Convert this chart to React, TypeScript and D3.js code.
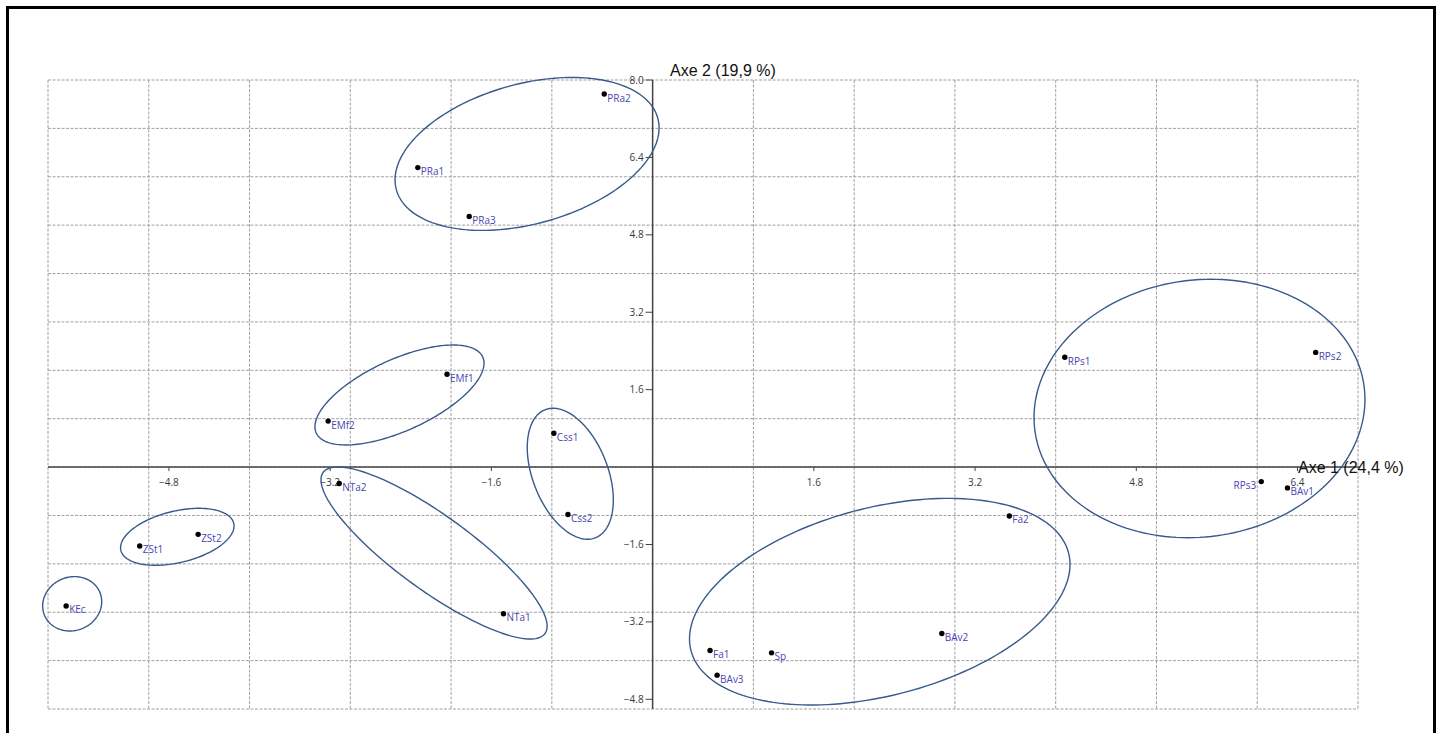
import React from "react";
import * as d3 from "d3";

// Individuals (PCA coordinates)
const names = ["PRa2","PRa1","PRa3","EMf1","EMf2","Css1","Css2","NTa2","NTa1","ZSt1","ZSt2","KEc","Fa1","BAv3","Sp","BAv2","Fa2","RPs1","RPs2","RPs3","BAv1"];
const axe1 = [-0.48,-2.33,-1.82,-2.04,-3.22,-0.98,-0.84,-3.11,-1.48,-5.09,-4.51,-5.82,0.57,0.64,1.18,2.87,3.54,4.09,6.58,6.04,6.30];
const axe2 = [7.71,6.19,5.18,1.92,0.95,0.70,-0.98,-0.34,-3.03,-1.63,-1.39,-2.87,-3.79,-4.30,-3.84,-3.44,-1.01,2.27,2.37,-0.30,-0.43];
const leftLabels = ["RPs3"];

// Group ellipses: centre, x-extent, y-extent, correlation
const groups = ["PRa","RPs","FaBAv","NTa","Css","EMf","ZSt","KEc"];
const ellCx = [-1.246, 5.427, 2.254, -2.169, -0.817, -2.512, -4.717, -5.760];
const ellCy = [6.472, 1.211, -2.782, -1.776, -0.138, 1.490, -1.441, -2.826];
const ellSx = [1.31, 1.642, 1.888, 1.122, 0.427, 0.839, 0.563, 0.293];
const ellSy = [1.58, 2.671, 2.135, 1.778, 1.354, 1.033, 0.589, 0.562];
const ellRho = [0.34, 0.07, 0.36, -0.85, -0.40, 0.635, 0.38, 0.08];

const xTicks = [-4.8, -3.2, -1.6, 1.6, 3.2, 4.8, 6.4];
const yTicks = [8.0, 6.4, 4.8, 3.2, 1.6, -1.6, -3.2, -4.8];
const xGrid = d3.range(-6, 8, 1);
const yGrid = d3.range(-5, 9, 1);
const xTitle = "Axe 1 (24,4 %)";
const yTitle = "Axe 2 (19,9 %)";

export default function App() {
  const W = 1439, H = 733;
  const x = d3.scaleLinear().domain([-6, 7]).range([48, 1358]);
  const y = d3.scaleLinear().domain([-5, 8]).range([709, 80]);
  const x0 = x(0), y0 = y(0);
  const fmt = d3.format(".1f");
  const tickFont = "'Open Sans', 'Noto Sans', sans-serif";
  const ts = d3.range(0, 2 * Math.PI + 0.001, Math.PI / 90);
  const line = d3.line<[number, number]>().curve(d3.curveLinearClosed);

  const ellPaths = groups.map((g, i) => {
    const pts: [number, number][] = ts.map((t) => {
      const dx = ellSx[i] * Math.cos(t);
      const dy = ellSy[i] * (ellRho[i] * Math.cos(t) + Math.sqrt(1 - ellRho[i] * ellRho[i]) * Math.sin(t));
      return [x(ellCx[i] + dx), y(ellCy[i] + dy)];
    });
    return line(pts.slice(0, pts.length - 1)) as string;
  });

  return (
    <svg width={W} height={H} style={{ position: "fixed", left: 0, top: 0, background: "#fff" }}>
      <rect x={7.5} y={7.5} width={1427} height={780} fill="none" stroke="#000" strokeWidth={3} />
      {/* grid */}
      {xGrid.map((v) => (
        <line key={"gx" + v} x1={x(v)} x2={x(v)} y1={y(8)} y2={y(-5)} stroke="#a0a0a0" strokeWidth={1} strokeDasharray="3,1.5" />
      ))}
      {yGrid.map((v) => (
        <line key={"gy" + v} x1={x(-6)} x2={x(7)} y1={y(v)} y2={y(v)} stroke="#a0a0a0" strokeWidth={1} strokeDasharray="3,1.5" />
      ))}
      {/* axes */}
      <line x1={x(-6)} x2={x(7) + 2} y1={y0} y2={y0} stroke="#444" strokeWidth={1.5} />
      <line x1={x0} x2={x0} y1={y(8)} y2={y(-5)} stroke="#444" strokeWidth={1.5} />
      {xTicks.map((v) => (
        <g key={"xt" + v}>
          <line x1={x(v)} x2={x(v)} y1={y0} y2={y0 + 4} stroke="#444" strokeWidth={1} />
          <text x={x(v)} y={y0 + 18.5} textAnchor="middle" fontSize={10} fontFamily={tickFont} fill="#3a3a3a">{fmt(v)}</text>
        </g>
      ))}
      {yTicks.map((v) => (
        <g key={"yt" + v}>
          <line x1={x0 - 7} x2={x0} y1={y(v)} y2={y(v)} stroke="#444" strokeWidth={1} />
          <text x={x0 - 9} y={y(v) + 3.5} textAnchor="end" fontSize={10} fontFamily={tickFont} fill="#3a3a3a">{fmt(v)}</text>
        </g>
      ))}
      {/* ellipses */}
      {ellPaths.map((p, i) => (
        <path key={"e" + groups[i]} d={p} fill="none" stroke="#385a8c" strokeWidth={1.4} />
      ))}
      {/* points */}
      {names.map((n, i) => {
        const left = leftLabels.includes(n);
        return (
          <g key={n}>
            <circle cx={x(axe1[i])} cy={y(axe2[i])} r={2.7} fill="#000" />
            <text x={x(axe1[i]) + (left ? -5 : 3)} y={y(axe2[i]) + 7.5} textAnchor={left ? "end" : "start"} fontSize={10} fontFamily={tickFont} fill="#4a45b0">{n}</text>
          </g>
        );
      })}
      {/* axis titles */}
      <text x={1298} y={y0 + 6} fontSize={16} fontFamily="'Liberation Sans', Arial, sans-serif" fill="#111">{xTitle}</text>
      <text x={670} y={76} fontSize={16} fontFamily="'Liberation Sans', Arial, sans-serif" fill="#111">{yTitle}</text>
    </svg>
  );
}
